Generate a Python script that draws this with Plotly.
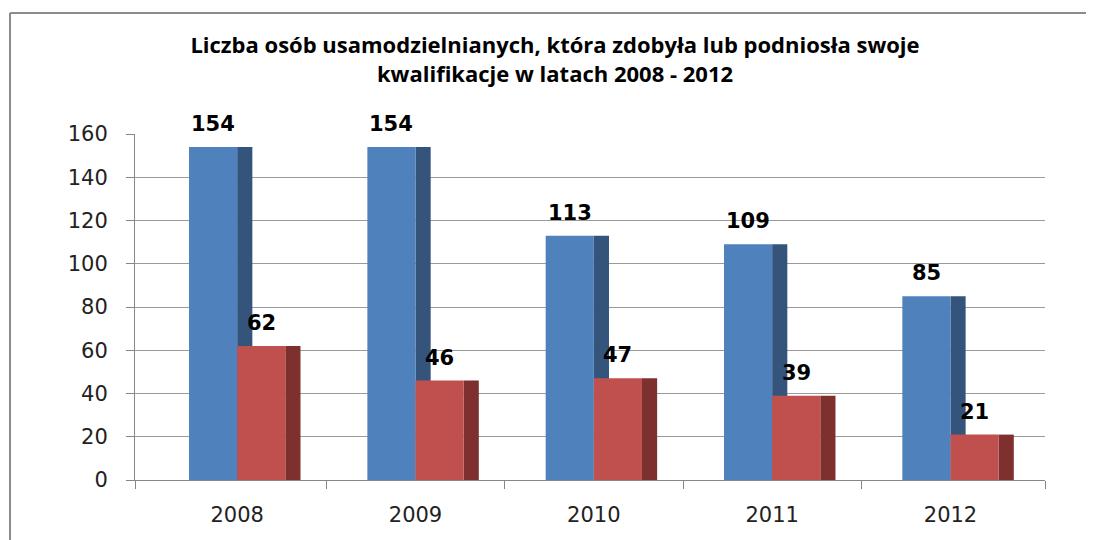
import plotly.graph_objects as go

years = ["2008", "2009", "2010", "2011", "2012"]
series_a = [154, 154, 113, 109, 85]
series_b = [62, 46, 47, 39, 21]
y_ticks = [0, 20, 40, 60, 80, 100, 120, 140, 160]

title_text = "Liczba osób usamodzielnianych, która zdobyła lub podniosła swoje<br>kwalifikacje w latach 2008 - 2012"

W, H = 1094, 540
OFF = 8  # page body margin
L, R, T, B = 135 - OFF, 1094 - (1045 - OFF), 134 - OFF, 540 - (480 - OFF)

blue, blue_side = "#4F81BD", "#34547C"
red, red_side = "#C0504D", "#7D302E"

xs = list(range(len(years)))
bw = 0.27     # front face width
sw = 0.085    # side face width

fig = go.Figure()
fig.add_trace(go.Bar(x=xs, y=series_a, offset=0.0, width=sw, marker_color=blue_side,
                     marker_line_width=0, hoverinfo="skip", showlegend=False))
fig.add_trace(go.Bar(x=xs, y=series_a, offset=-bw, width=bw, marker_color=blue,
                     marker_line_width=0, showlegend=False))
fig.add_trace(go.Bar(x=xs, y=series_b, offset=bw, width=sw, marker_color=red_side,
                     marker_line_width=0, hoverinfo="skip", showlegend=False))
fig.add_trace(go.Bar(x=xs, y=series_b, offset=0.0, width=bw, marker_color=red,
                     marker_line_width=0, showlegend=False))

lab_font = dict(family="DejaVu Sans", size=21, color="#000000")
annotations = []
for i, (a, b) in enumerate(zip(series_a, series_b)):
    annotations.append(dict(x=i - bw / 2, y=a, text="<b>%d</b>" % a, showarrow=False, yanchor="bottom",
                            yshift=9, font=lab_font))
    annotations.append(dict(x=i + bw / 2, y=b, text="<b>%d</b>" % b, showarrow=False, yanchor="bottom",
                            yshift=9, font=lab_font))

pw = W - L - R
ph = H - T - B
def px_x(p):
    return (p - OFF - L) / pw
def px_y(p):
    return (H - B - (p - OFF)) / ph

shapes = [
    dict(type="line", xref="paper", yref="paper", x0=px_x(10), x1=px_x(W + 20), y0=px_y(13), y1=px_y(13),
         line=dict(color="#8C8C8C", width=2)),
    dict(type="line", xref="paper", yref="paper", x0=px_x(10), x1=px_x(10), y0=px_y(13), y1=px_y(H + 20),
         line=dict(color="#8C8C8C", width=2)),
]

tick_font = dict(family="DejaVu Sans", size=21, color="#222222")

fig.update_layout(
    width=W, height=H,
    margin=dict(l=L, r=R, t=T, b=B),
    paper_bgcolor="white", plot_bgcolor="white",
    barmode="overlay",
    title=dict(text="<b>" + title_text + "</b>", x=(555 - OFF) / W, xanchor="center",
               y=1 - (53 - OFF) / H, yanchor="middle",
               font=dict(family="Open Sans", size=22, color="#000000")),
    xaxis=dict(range=[-0.573, 4.53], tickmode="array", tickvals=xs, ticktext=years,
               showgrid=False, zeroline=False, showline=True, linecolor="#868686", linewidth=1,
               ticks="", ticklabelstandoff=16, tickfont=tick_font,
               minor=dict(tickmode="array", tickvals=[i + 0.5 for i in xs[:-1]] + [-0.573, 4.53],
                          ticks="outside", ticklen=8, tickcolor="#868686", showgrid=False)),
    yaxis=dict(range=[0, 160], tickmode="array", tickvals=y_ticks,
               showgrid=True, gridcolor="#9A9A9A", gridwidth=1,
               zeroline=False, showline=True, linecolor="#868686", linewidth=1,
               ticks="outside", ticklen=8, tickcolor="#868686", ticklabelstandoff=14,
               tickfont=tick_font),
    annotations=annotations,
    shapes=shapes,
)

fig.write_html("out.html")
